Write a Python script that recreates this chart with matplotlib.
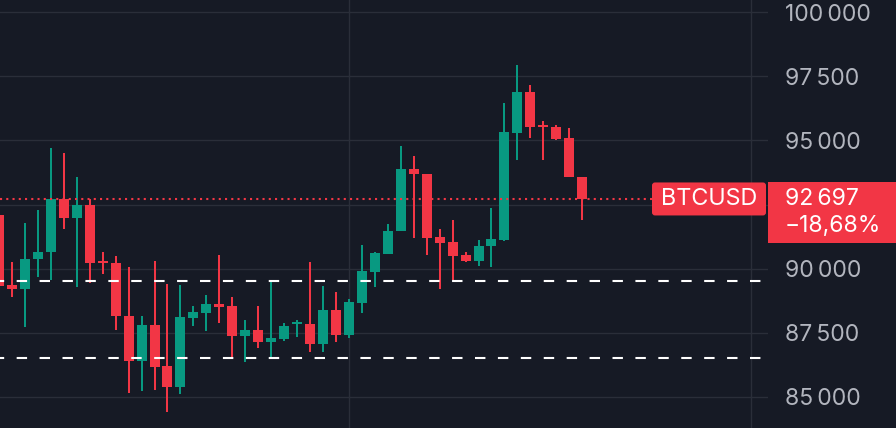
import matplotlib
matplotlib.use("Agg")
import matplotlib.pyplot as plt
from matplotlib.patches import FancyBboxPatch, Rectangle

plt.rcParams['font.family'] = ['Inter', 'DejaVu Sans']

# ---- data ----
opens = [92100, 89340, 89180, 90390, 90630, 92700, 91990, 92500, 90310, 90230,
         88160, 86370, 87810, 86210, 85390, 88050, 88280, 88630, 88520, 87380,
         87580, 87110, 87230, 87850, 87850, 87070, 88360, 87420, 88670, 89880,
         90550, 91450, 93870, 93710, 91250, 91020, 90510, 90310, 90860, 91130,
         95310, 96910, 95590, 95510, 95080, 93590]
highs = [92150, 90270, 91760, 92270, 94690, 94530, 93590, 92700, 90630, 90470,
         90040, 88130, 90310, 89410, 89340, 88520, 88980, 90510, 88870, 87970,
         88520, 89490, 87890, 87970, 90270, 89300, 89100, 88790, 90900, 90660,
         91720, 94770, 94410, 93710, 91560, 91910, 90660, 91130, 92380, 96450,
         97930, 97150, 95780, 95590, 95470, 93590]
lows = [89100, 88900, 87730, 89650, 89570, 91560, 89260, 89450, 89770, 87580,
        85120, 85230, 85270, 84380, 85080, 87770, 87540, 87890, 86560, 86330,
        86910, 86560, 87150, 87340, 86720, 86720, 87110, 87270, 88280, 89260,
        90550, 91450, 91210, 90510, 89180, 89570, 90270, 90080, 90040, 91060,
        94220, 95080, 94220, 95000, 93590, 91910]
closes = [89300, 89180, 90390, 90630, 92700, 91990, 92500, 90230, 90230, 88130,
          86370, 87810, 86170, 85390, 88090, 88320, 88630, 88480, 87380, 87580,
          87110, 87270, 87770, 87890, 87070, 88360, 87420, 88710, 89920, 90590,
          91480, 93870, 93710, 91210, 90980, 90470, 90310, 90860, 91170, 95350,
          96910, 95510, 95510, 95040, 93590, 92697]
symbol = "BTCUSD"
last_price = 92697
change_pct = "−18,68%"
support_levels = [89500, 86500]
y_ticks = [85000, 87500, 90000, 92500, 95000, 97500, 100000]
x_grid = [27, 58]

BG = "#161a25"
GRID = "#2a2e39"
UP = "#089981"
DOWN = "#f23645"
TXT = "#b2b5be"
SEP = "\u202f"


def fmt(v):
    return f"{v:,}".replace(",", SEP)


W, H = 896, 428
fig = plt.figure(figsize=(W / 100, H / 100), dpi=100, facecolor=BG)
ax = fig.add_axes([0, 0, 768 / W, 1])
ax.set_facecolor(BG)
for s in ax.spines.values():
    s.set_visible(False)

x0 = 1 / 12.96
ax.set_xlim(x0, x0 + 768 / 12.96)
ax.set_ylim(83770, 100488)

# candles
n = len(opens)
for i in range(n):
    o, h, l, c = opens[i], highs[i], lows[i], closes[i]
    col = UP if c >= o else DOWN
    ax.vlines(i, l, h, color=col, lw=1.45, zorder=3)
    body_h = max(abs(c - o), 70)
    ax.bar(i, body_h, bottom=min(o, c), width=0.77, color=col, lw=0, zorder=4)

# grid
ax.set_yticks(y_ticks)
ax.set_xticks(x_grid)
ax.grid(True, color=GRID, lw=1.0, zorder=0)
ax.set_axisbelow(True)
ax.tick_params(axis='x', length=0, labelbottom=False)
ax.yaxis.tick_right()
labels = ["" if v == 92500 else fmt(v) for v in y_ticks]
ax.set_yticklabels(labels)
ax.tick_params(axis='y', length=0, pad=12.2, labelcolor=TXT, labelsize=16.5)

# level lines
for lv in support_levels:
    ax.axhline(lv, color="white", lw=1.5, linestyle=(3, (5, 6)), zorder=5)

# last price dotted line
ax.axhline(last_price, xmin=0, xmax=652 / 768, color=DOWN, lw=1.5,
           linestyle=(0, (1, 2)), zorder=5)

# overlay for tags (pixel coords, origin bottom-left)
fig.canvas.draw()
yc = ax.transData.transform((0, last_price))[1]
ov = fig.add_axes([0, 0, 1, 1], facecolor="none")
ov.set_xlim(0, W)
ov.set_ylim(0, H)
ov.axis("off")

ov.add_patch(FancyBboxPatch((652, yc - 16), 114, 33,
                            boxstyle="round,pad=0,rounding_size=3",
                            fc=DOWN, ec="none"))
ov.text(709, yc + 0.5, symbol, color="white", fontsize=16.8,
        ha="center", va="center")
ov.add_patch(Rectangle((768, yc - 44), 128, 61, fc=DOWN, ec="none"))
ov.text(785, yc + 0.5, fmt(last_price), color="white",
        fontsize=16.5, ha="left", va="center")
ov.text(785, yc - 27, change_pct, color="white", fontsize=16.5,
        ha="left", va="center")

fig.savefig("out.png", dpi=100, facecolor=BG)
